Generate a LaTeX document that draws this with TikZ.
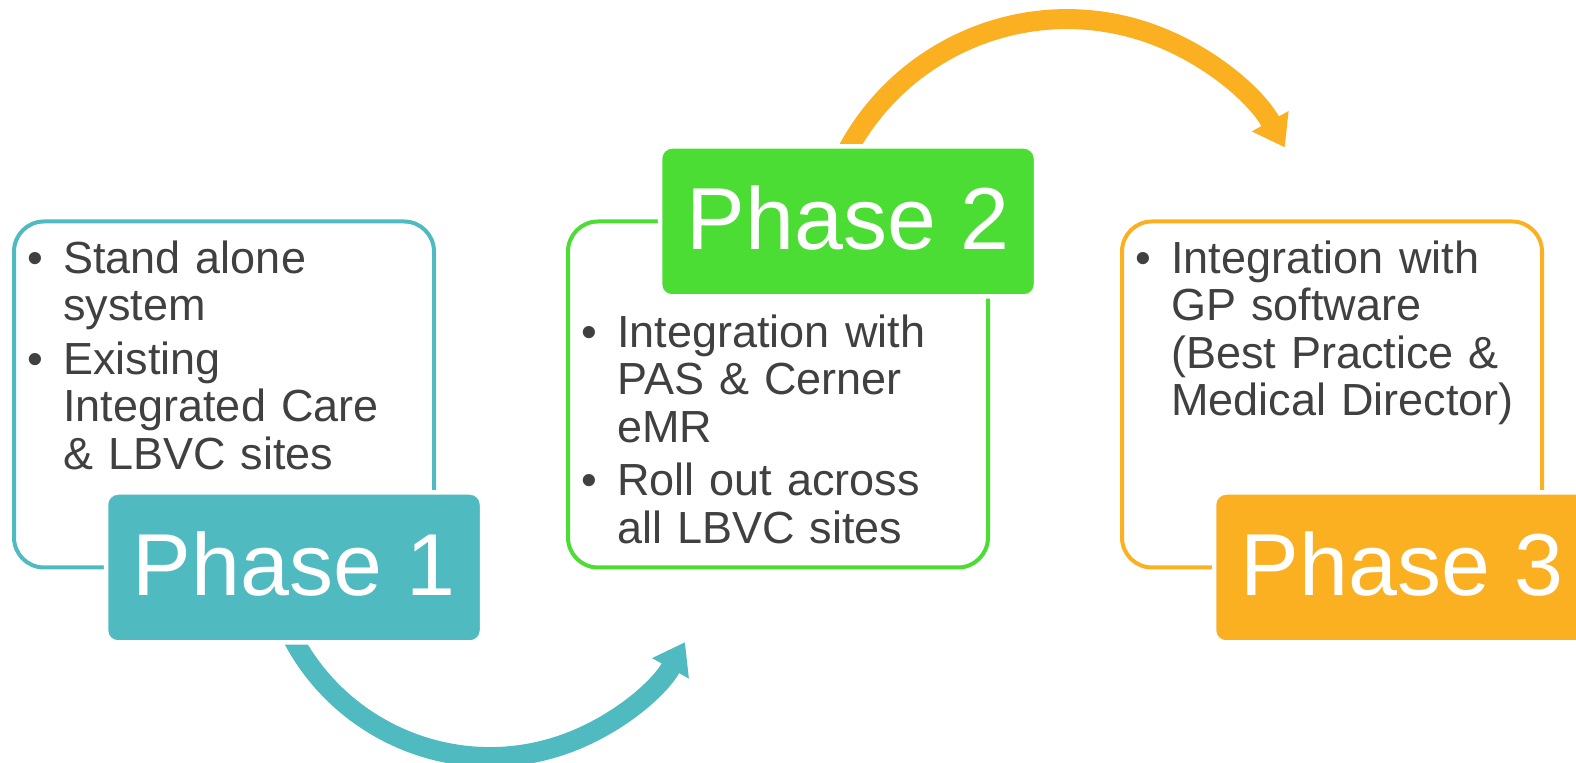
\documentclass[tikz,border=0pt]{standalone}
\usepackage{fontspec}
\setmainfont{Liberation Sans}
\usetikzlibrary{positioning,arrows.meta,calc}
\definecolor{ph1col}{HTML}{4FBAC0}
\definecolor{ph2col}{HTML}{4CDD34}
\definecolor{ph3col}{HTML}{FBB022}
\definecolor{txtcol}{HTML}{404040}
\newcommand{\stageitem}[1]{\noindent\hangindent=18pt\hangafter=1\makebox[18pt][l]{\textbullet}#1\par\vspace{3pt}}
\tikzstyle{stagebox} = [
rectangle,
rounded corners=15pt,
line width=2pt,
minimum width=210pt,
minimum height=173pt,
outer sep=0pt
]
\tikzstyle{stagetext} = [
text width=210pt,
align=left,
inner sep=0pt,
text=txtcol,
font=\fontsize{22.5}{23.75}\selectfont
]
\tikzstyle{phasetag} = [
rectangle,
rounded corners=6pt,
draw=white,
line width=2.25pt,
minimum width=188pt,
minimum height=75pt,
text=white,
text depth=4pt,
font=\fontsize{44}{48}\selectfont
]
\tikzstyle{looparrow} = [
line width=10pt,
-{Triangle[length=15pt,width=20pt]}
]

\begin{document}
\begin{tikzpicture}[
	x=0.5pt,
	y=0.5pt,
	node distance=277pt
	]
	\useasboundingbox (0,0) rectangle (1576,763);
	
	\node[stagebox,draw=ph1col] (box1) at (224,368.5) {};
	\node[stagebox,draw=ph2col,right of=box1] (box2) {};
	\node[stagebox,draw=ph3col,right of=box2] (box3) {};
	
	\node[stagetext,below right=9.5pt and 6.5pt of box1.north west] (txt1) {%
		\stageitem{Stand alone\newline system}
		\stageitem{Existing\newline Integrated Care\newline \& LBVC sites}};
	\node[stagetext,below right=46.5pt and 6.5pt of box2.north west] (txt2) {%
		\stageitem{Integration with\newline PAS \& Cerner\newline eMR}
		\stageitem{Roll out across\newline all LBVC sites}};
	\node[stagetext,below right=9.5pt and 6.5pt of box3.north west] (txt3) {%
		\stageitem{Integration with\newline GP software\newline (Best Practice \&\newline Medical Director)}};
	
	\coordinate (arr1) at (280.4,152.7);
	\coordinate (arr2) at (833,580);
	\draw[looparrow,ph1col] (arr1) arc[start angle=200,end angle=331,radius=111.5pt];
	\draw[looparrow,ph3col] (arr2) arc[start angle=160,end angle=29,radius=124.5pt];
	
	\node[phasetag,fill=ph1col] (phase1) at ($(box1.south)+(35pt,0)$) {Phase 1};
	\node[phasetag,fill=ph2col] (phase2) at ($(box2.north)+(35pt,0)$) {Phase 2};
	\node[phasetag,fill=ph3col] (phase3) at ($(box3.south)+(35pt,0)$) {Phase 3};
\end{tikzpicture}
\end{document}
